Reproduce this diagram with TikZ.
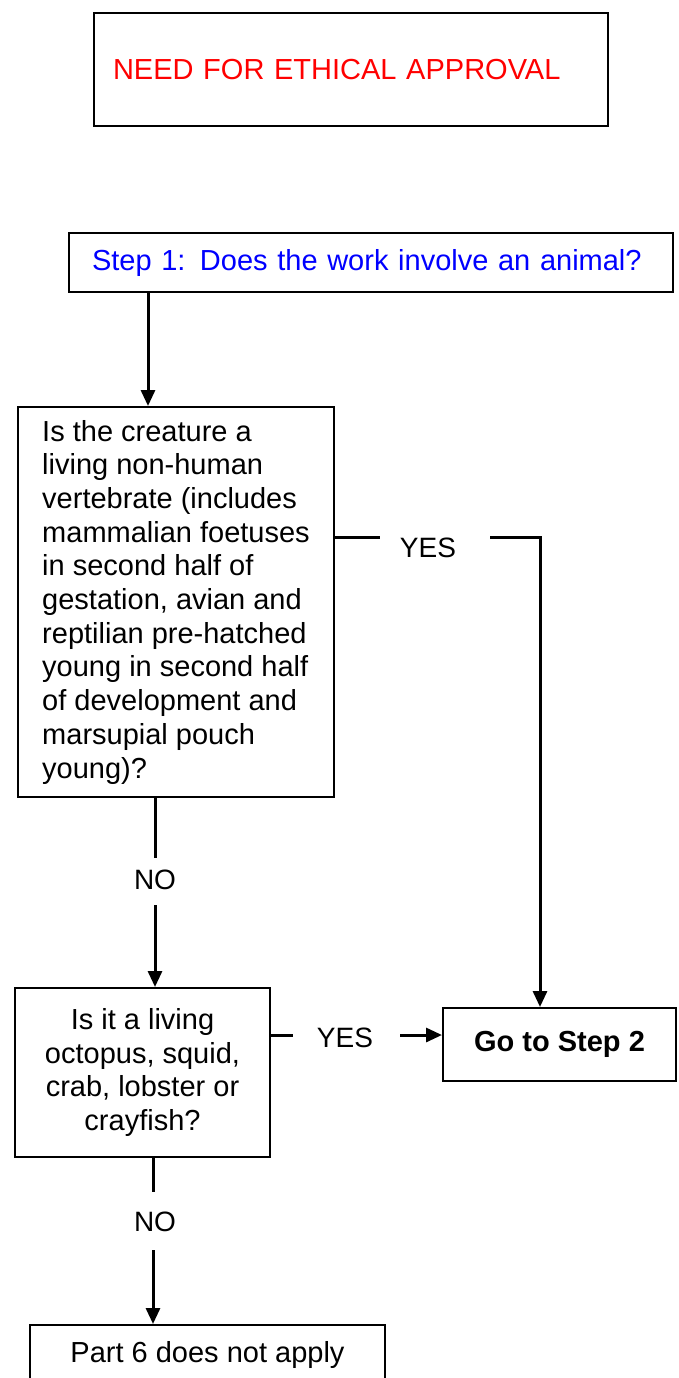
\documentclass[tikz,border=0pt]{standalone}
\usepackage{fontspec}
\setmainfont{Liberation Sans}
\usetikzlibrary{arrows.meta}
\begin{document}
\begin{tikzpicture}[x=1pt,y=-1pt,
  box/.style={draw, line width=2pt, inner sep=0pt, font=\fontsize{29}{33.7}\selectfont},
  conn/.style={line width=3pt},
  arr/.style={line width=3pt, -{Triangle[length=16pt,width=14pt]}},
  lbl/.style={inner sep=0pt, font=\fontsize{28}{33}\selectfont}]
\useasboundingbox (0,0) rectangle (678,1378);
\node[box, text=red, text width=476pt, inner xsep=19pt, align=left, minimum height=113pt] (title) at (351,69.5) {NEED FOR ETHICAL APPROVAL};
\node[box, text=blue, text width=558pt, inner xsep=23pt, align=left, minimum height=59pt] (step1) at (371,262.5) {Step 1: Does the work involve an animal?};
\node[box, align=left, minimum width=316pt, minimum height=390pt] (C) at (176,602) {Is the creature a\\living non-human\\vertebrate (includes\\mammalian foetuses\\in second half of\\gestation, avian and\\reptilian pre-hatched\\young in second half\\of development and\\marsupial pouch\\young)?};
\node[box, align=center, minimum width=255pt, minimum height=169pt] (D) at (142.5,1072.5) {Is it a living\\octopus, squid,\\crab, lobster or\\crayfish?};
\node[box, font=\fontsize{29}{33.7}\selectfont\bfseries, minimum width=233pt, minimum height=73pt] (E) at (559.5,1044.5) {Go to Step 2};
\node[box, minimum width=355pt, minimum height=60pt] (F) at (207.5,1355) {Part 6 does not apply};
% labels
\node[lbl] (yes1) at (428,548) {YES};
\node[lbl] (no1) at (155,880) {NO};
\node[lbl] (yes2) at (345,1038) {YES};
\node[lbl] (no2) at (155,1222) {NO};
% connectors
\coordinate (a1) at (148,300);
\draw[arr] (a1 |- step1.south) -- (a1 |- C.north);
\coordinate (yA) at (380,537);
\coordinate (yB) at (490,537);
\coordinate (yC) at (540,537);
\draw[conn] (C.east |- yA) -- (yA);
\draw[arr, line join=miter] (yB) -- (yC) -- (yC |- E.north);
\coordinate (n1a) at (155,858);
\coordinate (n1b) at (155,905);
\draw[conn] (n1a |- C.south) -- (n1a);
\draw[arr] (n1b) -- (n1b |- D.north);
\coordinate (y2a) at (293,1035);
\coordinate (y2b) at (400,1035);
\draw[conn] (D.east |- y2a) -- (y2a);
\draw[arr] (y2b) -- (y2b -| E.west);
\coordinate (n2a) at (153,1192);
\coordinate (n2b) at (153,1250);
\draw[conn] (n2a |- D.south) -- (n2a);
\draw[arr] (n2b) -- (n2b |- F.north);
\end{tikzpicture}
\end{document}
